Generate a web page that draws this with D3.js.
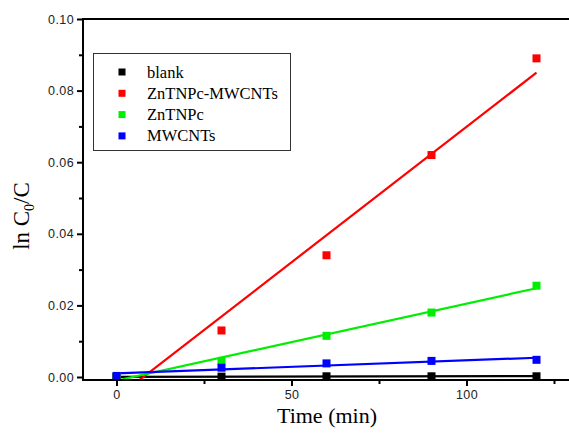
<!DOCTYPE html>
<html>
<head>
<meta charset="utf-8">
<script src="https://cdn.jsdelivr.net/npm/d3@7"></script>
<style>
  body { margin: 0; background: #fff; }
</style>
</head>
<body>
<div id="chart"></div>
<script>
  // Data
  var times = [0, 30, 60, 90, 120]
  var seriesNames = ['blank', 'ZnTNPc-MWCNTs', 'ZnTNPc', 'MWCNTs']
  var seriesColors = ['#000000', '#ff0000', '#00ee00', '#0000ff']
  var blankValues = [0, 0.0001, 0.0002, 0.0002, 0.0002]
  var compositeValues = [0, 0.013, 0.034, 0.062, 0.089]
  var pcValues = [0, 0.0045, 0.0115, 0.018, 0.0255]
  var cntValues = [0.0003, 0.0026, 0.0038, 0.0045, 0.0048]
  var xTicks = [0, 50, 100]
  var yTicks = [0, 0.02, 0.04, 0.06, 0.08, 0.10]

  ;(function () {
    'use strict'

    var allValues = [blankValues, compositeValues, pcValues, cntValues]

    // Dimensions and stuff
    var w = 569
    var h = 436
    var left = 83
    var plotTop = 19
    var bottom = 380
    var serif = 'Liberation Serif, Times New Roman, serif'

    var xScale = d3.scaleLinear().domain([0, 100]).range([116.5, 466.5])
    var yScale = d3.scaleLinear().domain([0, 0.1]).range([377, 19])

    var s = d3.select('#chart').append('svg')
      .attr('width', w)
      .attr('height', h)

    s.append('defs').append('clipPath').attr('id', 'plot')
      .append('rect')
      .attr('x', left).attr('y', plotTop)
      .attr('width', w - left).attr('height', bottom - plotTop)

    // Least squares fit
    function fit (xs, ys) {
      var mx = d3.mean(xs)
      var my = d3.mean(ys)
      var sxy = d3.sum(xs, function (x, i) { return (x - mx) * (ys[i] - my) })
      var sxx = d3.sum(xs, function (x) { return (x - mx) * (x - mx) })
      var b = sxy / sxx
      return { a: my - b * mx, b: b }
    }

    var plot = s.append('g').attr('clip-path', 'url(#plot)')

    // Fit lines
    allValues.forEach(function (vals, i) {
      var f = fit(times, vals)
      plot.append('line')
        .attr('x1', xScale(0))
        .attr('y1', yScale(f.a))
        .attr('x2', xScale(120))
        .attr('y2', yScale(f.a + f.b * 120))
        .attr('stroke', seriesColors[i])
        .attr('stroke-width', 2.2)
    })

    // Points
    var m = 8
    allValues.forEach(function (vals, i) {
      plot.selectAll('.p' + i)
        .data(vals)
        .enter().append('rect')
        .attr('x', function (d, j) { return xScale(times[j]) - m / 2 })
        .attr('y', function (d) { return yScale(d) - m / 2 })
        .attr('width', m)
        .attr('height', m)
        .attr('fill', seriesColors[i])
    })

    // Axes
    var yAxis = d3.axisLeft(yScale).tickValues(yTicks)
      .tickFormat(d3.format('.2f')).tickSize(6).tickPadding(3)
    var yMinor = d3.axisLeft(yScale).tickValues([0.01, 0.03, 0.05, 0.07, 0.09])
      .tickFormat('').tickSize(4)
    var xAxis = d3.axisBottom(xScale).tickValues(xTicks).tickSize(6).tickPadding(4)
    var xMinor = d3.axisBottom(xScale).tickValues([25, 75, 125]).tickFormat('').tickSize(4)

    function styleAxis (g) {
      g.select('.domain').remove()
      g.selectAll('.tick line').attr('stroke', '#000').attr('stroke-width', 2)
      g.selectAll('.tick text')
        .attr('font-family', 'Liberation Sans, Arial, sans-serif')
        .attr('font-size', 12.5)
        .attr('letter-spacing', 0.4)
        .attr('fill', '#222')
    }

    s.append('g').attr('transform', 'translate(' + left + ',0)').call(yAxis).call(styleAxis)
    s.append('g').attr('transform', 'translate(' + left + ',0)').call(yMinor).call(styleAxis)
    s.append('g').attr('transform', 'translate(0,' + bottom + ')').call(xAxis).call(styleAxis)
    s.append('g').attr('transform', 'translate(0,' + bottom + ')').call(xMinor).call(styleAxis)

    // Frame (right side runs off the picture)
    s.append('path')
      .attr('d', 'M' + w + ',' + plotTop + 'H' + left + 'V' + bottom + 'H' + w)
      .attr('fill', 'none')
      .attr('stroke', '#000')
      .attr('stroke-width', 2)

    // Axis titles
    s.append('text')
      .attr('x', 327).attr('y', 423)
      .attr('text-anchor', 'middle')
      .attr('font-family', serif)
      .attr('font-size', 22)
      .text('Time (min)')

    var yt = s.append('text')
      .attr('transform', 'translate(29,216) rotate(-90)')
      .attr('text-anchor', 'middle')
      .attr('font-family', serif)
      .attr('font-size', 23)
    yt.append('tspan').text('ln C')
    yt.append('tspan').attr('font-size', 14).attr('dy', 5).text('0')
    yt.append('tspan').attr('dy', -5).text('/C')

    // Legend
    var lg = s.append('g')
    lg.append('rect')
      .attr('x', 93.5).attr('y', 53.5)
      .attr('width', 197).attr('height', 97)
      .attr('fill', '#fff')
      .attr('stroke', '#333')
      .attr('stroke-width', 1)

    seriesNames.forEach(function (name, i) {
      var yy = 72 + i * 21.3
      lg.append('rect')
        .attr('x', 118.5).attr('y', yy - 3.5)
        .attr('width', 7).attr('height', 7)
        .attr('fill', seriesColors[i])
      lg.append('text')
        .attr('x', 147).attr('y', yy + 5.5)
        .attr('font-family', serif)
        .attr('font-size', 16.5)
        .text(name)
    })
  }())
</script>
</body>
</html>
